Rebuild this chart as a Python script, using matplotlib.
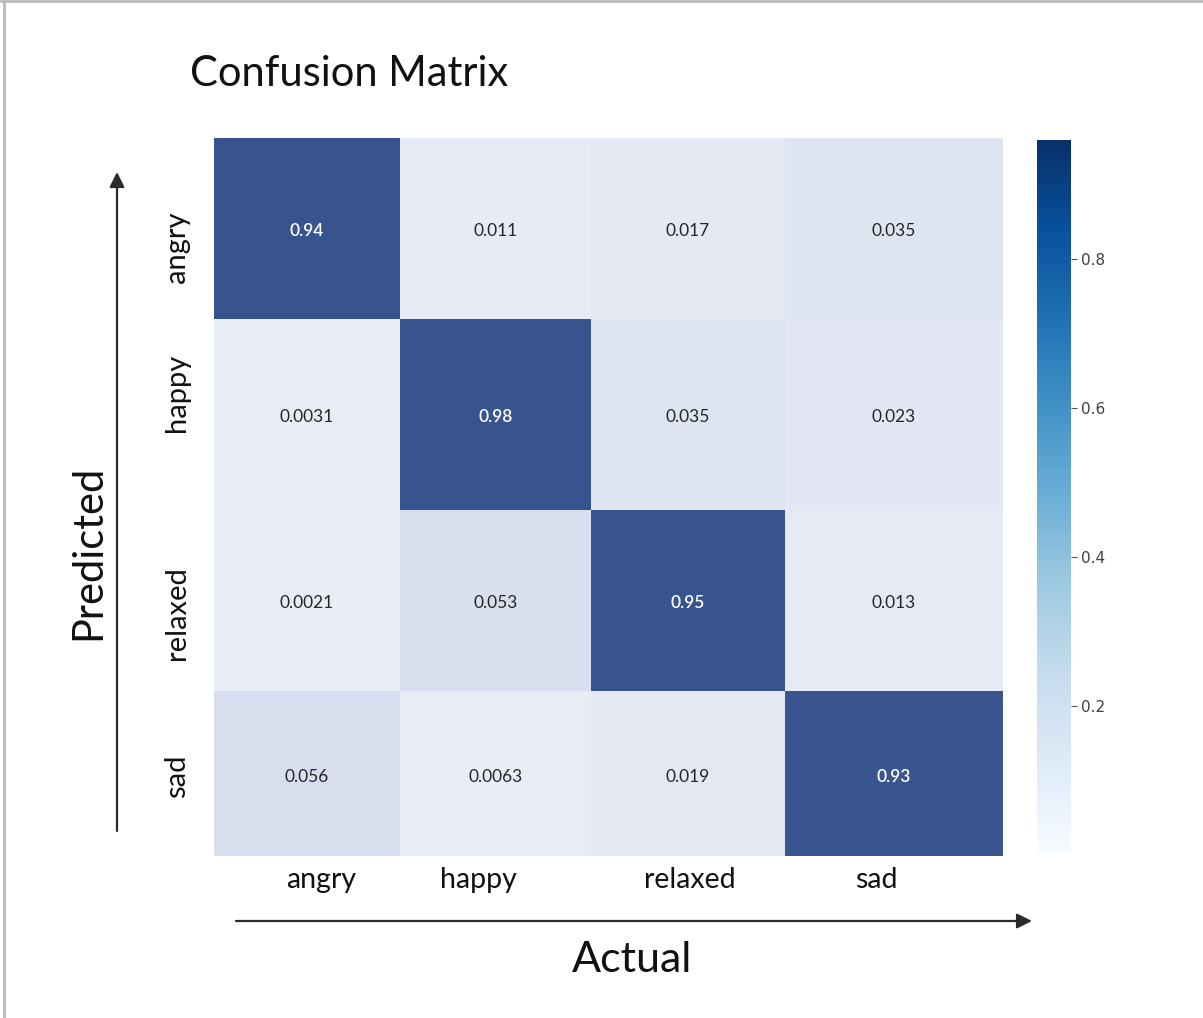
import numpy as np
import matplotlib
matplotlib.use("Agg")
import matplotlib.pyplot as plt
from matplotlib.colors import LinearSegmentedColormap, Normalize
from matplotlib.cm import ScalarMappable
from matplotlib.lines import Line2D
from matplotlib.patches import FancyArrowPatch

# Class names and normalised confusion values (rows: predicted, cols: actual)
classes = ["angry", "happy", "relaxed", "sad"]
matrix = [
    [0.94, 0.011, 0.017, 0.035],
    [0.0031, 0.98, 0.035, 0.023],
    [0.0021, 0.053, 0.95, 0.013],
    [0.056, 0.0063, 0.019, 0.93],
]
cell_labels = [
    ["0.94", "0.011", "0.017", "0.035"],
    ["0.0031", "0.98", "0.035", "0.023"],
    ["0.0021", "0.053", "0.95", "0.013"],
    ["0.056", "0.0063", "0.019", "0.93"],
]
colorbar_ticks = [0.2, 0.4, 0.6, 0.8]

values = np.array(matrix)

W, H = 1203, 1018
fig = plt.figure(figsize=(W / 100, H / 100), dpi=100)
fig.patch.set_facecolor("white")


def fx(px):
    return px / W


def fy(py):
    return 1 - py / H


# Layout of the heatmap in pixels
left, right, top, bottom = 214, 1003, 138, 856
col_edges = np.array([0, 186, 377, 571, 789])
row_edges = np.array([0, 181, 372, 553, 718])
xtick_pos = [107, 264, 476, 662]
ytick_pos = [109, 255, 475, 638]

ax = fig.add_axes([fx(left), fy(bottom), fx(right - left), (bottom - top) / H])
cell_cmap = LinearSegmentedColormap.from_list(
    "cells", [(0.0, "#E9EDF6"), (0.06, "#D8DEEE"), (1.0, "#38548F")], N=256
)
norm_cells = Normalize(vmin=0.0, vmax=0.94)
ax.pcolormesh(col_edges, row_edges, values, cmap=cell_cmap, norm=norm_cells,
              edgecolor="none")
ax.set_xlim(col_edges[0], col_edges[-1])
ax.set_ylim(row_edges[-1], row_edges[0])

for i in range(len(classes)):
    for j in range(len(classes)):
        cx = (col_edges[j] + col_edges[j + 1]) / 2
        cy = (row_edges[i] + row_edges[i + 1]) / 2 + 3
        strong = values[i, j] > 0.5
        ax.text(cx, cy, cell_labels[i][j], ha="center", va="center",
                fontsize=12.5, color="white" if strong else "#262626",
                family="Lato", fontweight="semibold" if strong else "normal")

ax.set_xticks(xtick_pos)
ax.set_xticklabels(classes, fontsize=20.5, family="Lato", color="#111111")
ax.set_yticks(ytick_pos)
ax.set_yticklabels(classes, fontsize=21, family="Lato", color="#111111",
                   rotation=90, va="center")
ax.tick_params(axis="x", length=0, pad=8)
ax.tick_params(axis="y", length=0, pad=17)
for s in ax.spines.values():
    s.set_visible(False)

# Colour bar
cax = fig.add_axes([fx(1037), fy(853), fx(34), (853 - 140) / H])
sm = ScalarMappable(norm=Normalize(vmin=0.0021, vmax=0.96), cmap="Blues")
cb = fig.colorbar(sm, cax=cax, ticks=colorbar_ticks)
cb.outline.set_visible(False)
cb.ax.set_yticklabels([f"{t:.1f}" for t in colorbar_ticks])
cb.ax.tick_params(labelsize=11, labelcolor="#404040", color="#555555",
                  length=4, width=0.8, pad=3)

# Title and axis names
fig.text(fx(190), fy(74), "Confusion Matrix", fontsize=30, family="Lato",
         ha="left", va="center", color="#111111")
fig.text(fx(88), fy(552), "Predicted", fontsize=30, family="Lato",
         rotation=90, ha="center", va="center", color="#111111")
fig.text(fx(632), fy(960), "Actual", fontsize=31, family="Lato",
         ha="center", va="center", color="#111111")

# Direction arrows
fig.patches.append(FancyArrowPatch(
    (fx(117), fy(831)), (fx(117), fy(172)), transform=fig.transFigure,
    arrowstyle="-|>,head_length=9,head_width=4.5", color="#2a2a2a", lw=1.6,
    shrinkA=0, shrinkB=0))
fig.patches.append(FancyArrowPatch(
    (fx(236), fy(921)), (fx(1032), fy(921)), transform=fig.transFigure,
    arrowstyle="-|>,head_length=9,head_width=4.5", color="#2a2a2a", lw=1.6,
    shrinkA=0, shrinkB=0))

# Thin frame lines on the top and left edges
fig.add_artist(Line2D([fx(4), fx(4)], [0, 1], transform=fig.transFigure,
                      color="#BBBBBB", lw=2))
fig.add_artist(Line2D([0, 1], [fy(1), fy(1)], transform=fig.transFigure,
                      color="#BBBBBB", lw=2))

fig.savefig("out.png", dpi=100, facecolor="white")
